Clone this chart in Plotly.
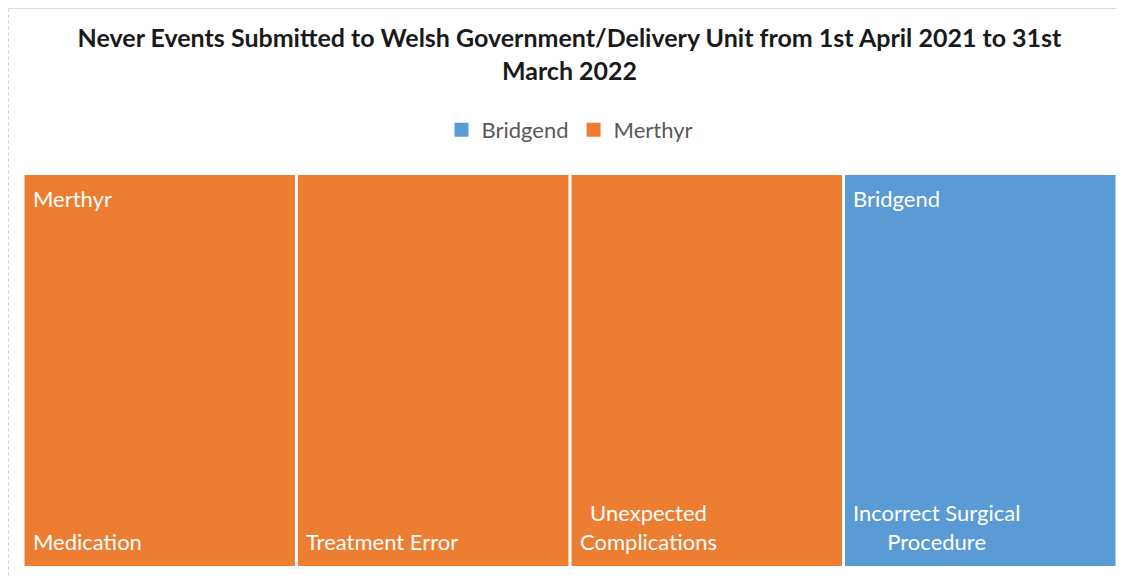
import plotly.graph_objects as go

title_text = "Never Events Submitted to Welsh Government/Delivery Unit from 1st April 2021 to 31st<br>March 2022"
regions = ["Merthyr", "Merthyr", "Merthyr", "Bridgend"]
categories = ["Medication", "Treatment Error", "Unexpected<br>Complications", "Incorrect Surgical<br>Procedure"]
counts = [1, 1, 1, 1]
colors = {"Bridgend": "#5B9BD5", "Merthyr": "#ED7D31"}
legend_order = ["Bridgend", "Merthyr"]

FONT = "Lato"
W, H = 1116, 570  # page body has an 8px margin
L, R, T, B = 15, 7, 167, 12
pw, ph = W - L - R, H - T - B
bargap = 0.011
fig = go.Figure()
for reg in legend_order:
    xs = [i for i, r in enumerate(regions) if r == reg]
    ys = [counts[i] for i in xs]
    fig.add_trace(go.Bar(
        x=xs, y=ys, name=reg, marker=dict(color=colors[reg], line=dict(width=0)),
        hoverinfo="skip", showlegend=False, legendgroup=reg,
    ))
for reg in legend_order:
    fig.add_trace(go.Scatter(
        x=[None], y=[None], mode="markers", name=reg, legendgroup=reg,
        marker=dict(symbol="square", size=14, color=colors[reg]), hoverinfo="skip",
    ))

annotations = []
seen = set()
for i, (reg, cat) in enumerate(zip(regions, categories)):
    left = i - (1 - bargap) / 2
    annotations.append(dict(
        x=left, y=0, xref="x", yref="y", text=cat, showarrow=False,
        xanchor="left", yanchor="bottom", align="center", xshift=6, yshift=9,
        font=dict(family=FONT, size=22, color="white"),
    ))
    if reg not in seen:
        seen.add(reg)
        annotations.append(dict(
            x=left, y=sum(counts) / len(counts), xref="x", yref="y", text=reg, showarrow=False,
            xanchor="left", yanchor="top", align="left", xshift=6, yshift=-8,
            font=dict(family=FONT, size=22, color="white"),
        ))

fx = (0.5 - L) / pw
fy = (ph + T - 0.5) / ph
fig.update_layout(
    width=W, height=H,
    margin=dict(l=L, r=R, t=T, b=B),
    paper_bgcolor="white", plot_bgcolor="white",
    bargap=bargap,
    title=dict(text="<b>" + title_text + "</b>", x=(1057 + 82) / 2 / W - 8 / W, xanchor="center",
               y=1 - 39 / H, yanchor="middle", yref="container",
               font=dict(family=FONT, size=25, color="#1a1a1a")),
    legend=dict(orientation="h", x=0.5, xanchor="center", y=1.115, yanchor="middle",
                font=dict(family=FONT, size=22, color="#595959"), traceorder="normal"),
    xaxis=dict(range=[-0.5, len(categories) - 0.5], visible=False, fixedrange=True),
    yaxis=dict(range=[0, 1], visible=False, fixedrange=True),
    annotations=annotations,
    shapes=[
        dict(type="line", xref="paper", yref="paper", x0=fx, x1=1.01, y0=fy, y1=fy,
             line=dict(color="#d9d9d9", width=1)),
        dict(type="line", xref="paper", yref="paper", x0=fx, x1=fx, y0=fy, y1=-0.03,
             line=dict(color="#cfcfcf", width=1, dash="dot")),
    ],
)
fig.write_html("out.html")
